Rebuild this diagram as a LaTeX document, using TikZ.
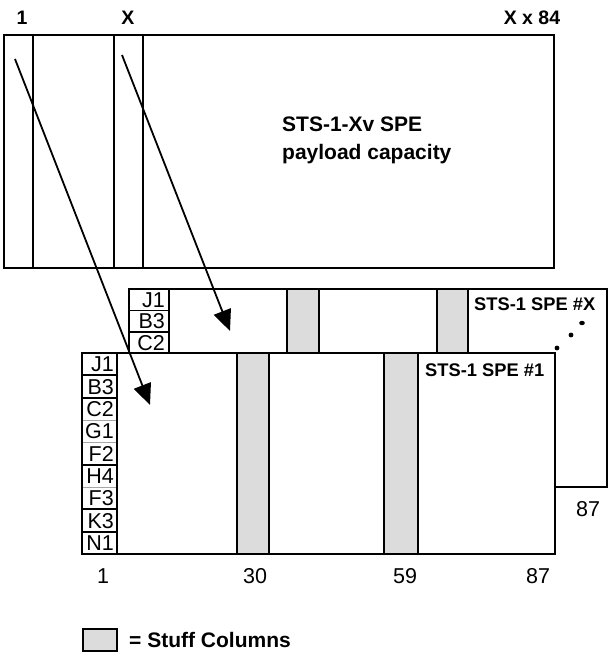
\documentclass[tikz,border=0pt]{standalone}
\usepackage{fontspec}
\setmainfont{Liberation Sans}
\usetikzlibrary{arrows.meta}
\definecolor{stuffgray}{RGB}{220,220,220}
\newcommand\RowA{22.33}
\newcommand\RowB{21.33}
\tikzset{
  spebox/.style={
    draw,
    line width=2.2pt,
    fill=white
  },
  speline/.style={
    line width=2.2pt
  },
  stuffcol/.style={
    draw,
    line width=2.2pt,
    fill=stuffgray
  },
  rowthick/.style={
    line width=2.2pt
  },
  rowthin/.style={
    line width=0.6pt,
    draw=black!35
  },
  rowlabel/.style={
    anchor=base east,
    inner sep=0pt,
    font=\fontsize{21.5}{25}\selectfont
  },
  numlabel/.style={
    anchor=base,
    inner sep=0pt,
    font=\fontsize{21.5}{25}\selectfont
  },
  boldlabel/.style={
    anchor=base,
    inner sep=0pt,
    font=\fontsize{19.5}{23}\selectfont\bfseries
  },
  bigtext/.style={
    anchor=base west,
    inner sep=0pt,
    font=\fontsize{21}{25}\selectfont\bfseries
  },
  spetitle/.style={
    anchor=base west,
    inner sep=0pt,
    font=\fontsize{18.3}{22}\selectfont\bfseries
  },
  arrowline/.style={
    line width=1.8pt,
    -{Triangle[length=21pt,width=18pt]}
  }
}
\begin{document}
\begin{tikzpicture}[x=1pt,y=-1pt]
\useasboundingbox (0,0) rectangle (608,653);

% STS-1-Xv SPE
\draw[spebox] (4,35) rectangle (554,268);
\draw[speline] (33,35) -- (33,268);
\draw[speline] (114,35) -- (114,268);
\draw[speline] (143,35) -- (143,268);
\node[boldlabel] (colone) at (22,24) {1};
\node[boldlabel] (colx) at (128,24) {X};
\node[boldlabel] (colxx) at (532,24) {X x 84};
\node[bigtext] (capa) at (282,131.5) {STS-1-Xv SPE};
\node[bigtext] (capb) at (282,159.5) {payload capacity};

% STS-1 SPE #X
\draw[spebox] (129,289) rectangle (607,487);
\draw[stuffcol] (287,289) rectangle (319,487);
\draw[stuffcol] (437,289) rectangle (468,487);
\draw[speline] (169,289) -- (169,353);
\draw[line width=0.8pt] (129,{289+\RowB}) -- (169,{289+\RowB});
\draw[rowthick] (129,{289+2*\RowB}) -- (169,{289+2*\RowB});
\foreach \lab [count=\i] in {J1,B3,C2}
  \node[rowlabel] (rx\i) at (165,{289+\RowB*(\i-0.5)+7.7}) {\lab};
\node[spetitle] (spex) at (474,310.5) {STS-1 SPE \#X};
\fill (582,323) ellipse (2.8 and 2.2);
\fill (571,335) circle (2.4);
\fill (557,348) circle (2.4);

% STS-1 SPE #1
\draw[spebox] (82,353) rectangle (555,554);
\draw[stuffcol] (237,353) rectangle (269,554);
\draw[stuffcol] (384,353) rectangle (418,554);
\draw[speline] (117,353) -- (117,554);
\foreach \i in {3,4,6}
  \draw[rowthin] (83,{353+\RowA*\i}) -- (116,{353+\RowA*\i});
\foreach \i in {1,2,5,7,8}
  \draw[rowthick] (82,{353+\RowA*\i}) -- (117,{353+\RowA*\i});
\foreach \lab [count=\i] in {J1,B3,C2,G1,F2,H4,F3,K3,N1}
  \node[rowlabel] (ra\i) at (114,{353+\RowA*(\i-0.5)+7.7}) {\lab};
\node[spetitle] (spea) at (425,376.5) {STS-1 SPE \#1};

% column numbers
\node[numlabel] (c1) at (103,583.5) {1};
\node[numlabel] (c30) at (255,583.5) {30};
\node[numlabel] (c59) at (405,583.5) {59};
\node[numlabel] (c87) at (538,583.5) {87};
\node[numlabel] (cx87) at (588,516.5) {87};

% arrows
\coordinate (aone) at (15,59);
\coordinate (aonetip) at (150,405);
\coordinate (ax) at (122,55);
\coordinate (axtip) at (230,331);
\draw[arrowline] (aone) -- (aonetip);
\draw[arrowline] (ax) -- (axtip);

% legend
\node[stuffcol, minimum width=34pt, minimum height=22pt, inner sep=0pt] (key) at (100,640) {};
\node[bigtext] (keytext) at (129,647.5) {= Stuff Columns};
\end{tikzpicture}
\end{document}
